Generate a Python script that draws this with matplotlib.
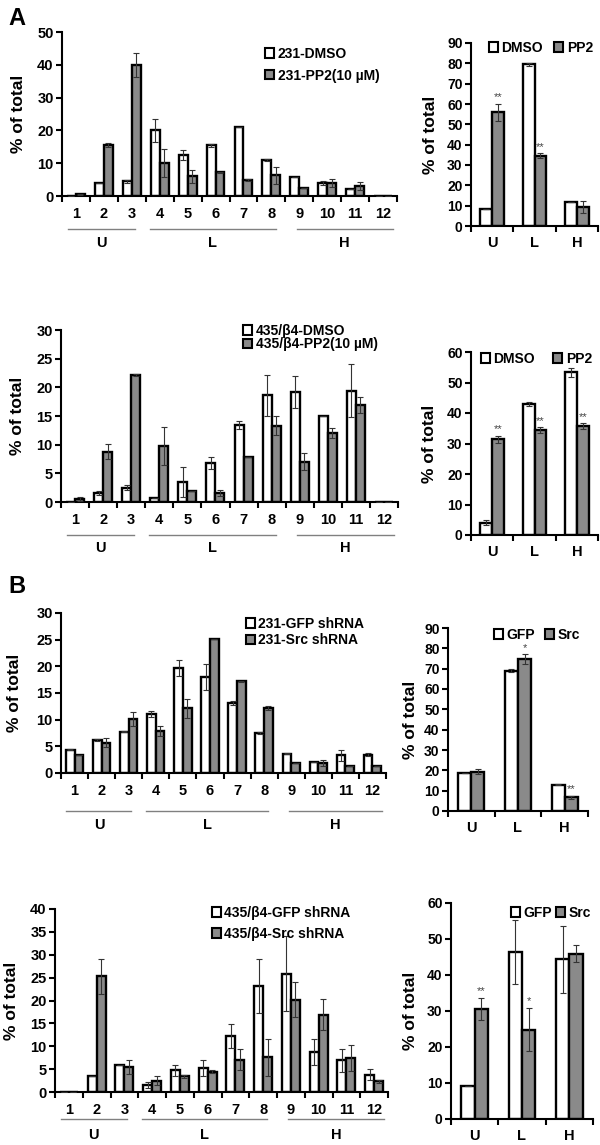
import numpy as np
import matplotlib.pyplot as plt
from matplotlib.patches import Patch
from matplotlib.transforms import ScaledTranslation

plt.rcParams['font.family'] = ['Liberation Sans', 'DejaVu Sans']
plt.rcParams['font.weight'] = 'bold'

W, H = 600, 1145
fig = plt.figure(figsize=(W / 100, H / 100), dpi=100)

fractions = [str(i) for i in range(1, 13)]
groups = ['U', 'L', 'H']
group_spans = [(0.7, 3.1), (3.65, 8.15), (8.9, 12.35)]

# A top: 231 cells, DMSO vs PP2
a1_dmso = [0.1, 4.0, 4.5, 20.0, 12.5, 15.5, 21.0, 11.0, 5.9, 4.0, 2.2, 0.1]
a1_dmso_err = [0, 0, 0.5, 3.6, 1.6, 0.5, 0, 0.3, 0, 0.5, 0, 0]
a1_pp2 = [0.5, 15.5, 40.0, 10.0, 6.0, 7.2, 5.0, 6.3, 2.5, 4.0, 3.0, 0.1]
a1_pp2_err = [0.2, 0.6, 3.6, 4.2, 2.0, 0.2, 0.3, 2.5, 0, 1.3, 1.2, 0]
a1_sum_dmso = [8.5, 79.5, 12.0]
a1_sum_dmso_err = [0, 0.6, 0]
a1_sum_pp2 = [56.0, 34.5, 9.5]
a1_sum_pp2_err = [4.2, 1.2, 3.0]
a1_stars = ['**', '**', '']

# A bottom: 435/b4 cells, DMSO vs PP2
a2_dmso = [0.05, 1.6, 2.5, 0.7, 3.5, 6.8, 13.5, 18.6, 19.2, 15.0, 19.4, 0.05]
a2_dmso_err = [0, 0.3, 0.4, 0, 2.6, 1.0, 0.7, 3.6, 2.8, 0, 4.6, 0]
a2_pp2 = [0.5, 8.8, 22.2, 9.7, 2.0, 1.6, 7.8, 13.3, 7.0, 12.0, 16.9, 0.05]
a2_pp2_err = [0.3, 1.3, 0.2, 3.3, 0, 0.5, 0, 1.7, 1.5, 0.9, 1.4, 0]
a2_sum_dmso = [4.0, 42.9, 53.3]
a2_sum_dmso_err = [0.8, 0.7, 1.6]
a2_sum_pp2 = [31.4, 34.3, 35.6]
a2_sum_pp2_err = [1.1, 1.0, 1.0]
a2_stars = ['**', '**', '**']

# B top: 231 cells, GFP vs Src shRNA
b1_gfp = [4.4, 6.2, 7.7, 11.1, 19.6, 18.0, 13.1, 7.5, 3.6, 2.1, 3.3, 3.4]
b1_gfp_err = [0.1, 0.2, 0.1, 0.6, 1.5, 2.5, 0.4, 0.2, 0.1, 0, 1.1, 0.3]
b1_src = [3.3, 5.7, 10.2, 7.9, 12.1, 25.2, 17.2, 12.2, 1.8, 1.9, 1.25, 1.4]
b1_src_err = [0, 0.8, 1.3, 0.9, 1.7, 0, 0.1, 0.4, 0, 0.6, 0, 0]
b1_sum_gfp = [18.5, 69.0, 13.0]
b1_sum_gfp_err = [0, 0.7, 0.3]
b1_sum_src = [19.4, 74.7, 6.7]
b1_sum_src_err = [1.2, 2.3, 0.8]
b1_stars = ['', '*', '**']

# B bottom: 435/b4 cells, GFP vs Src shRNA
b2_gfp = [0.1, 3.4, 6.0, 1.5, 4.7, 5.2, 12.2, 23.1, 25.8, 8.7, 6.9, 3.8]
b2_gfp_err = [0, 0, 0, 0.7, 1.2, 1.7, 2.6, 5.9, 8.2, 2.9, 2.5, 1.2]
b2_src = [0.1, 25.3, 5.5, 2.5, 3.4, 4.4, 7.1, 7.6, 20.2, 16.9, 7.4, 2.3]
b2_src_err = [0, 3.8, 1.6, 1.0, 0.3, 0.3, 2.3, 4.0, 3.9, 3.4, 2.9, 0.4]
b2_sum_gfp = [9.1, 46.4, 44.4]
b2_sum_gfp_err = [0, 9.0, 9.3]
b2_sum_src = [30.6, 24.8, 45.9]
b2_sum_src_err = [3.1, 6.0, 2.3]
b2_stars = ['**', '*', '']

GRAY = '#8a8a8a'


def px_axes(l, t, r, b):
    return fig.add_axes([l / W, 1 - b / H, (r - l) / W, (b - t) / H])


def style_axes(ax, n, ymax, ystep, ylabel_px, left_px, right_px, fs_tick, pad):
    ax.set_xlim(0.5, n + 0.5)
    ax.set_ylim(0, ymax)
    ax.set_yticks(np.arange(0, ymax + 0.1, ystep))
    ax.set_xticks(np.arange(0.5, n + 1, 1))
    ax.set_xticklabels([])
    ax.set_xticks(np.arange(1, n + 1), minor=True)
    for s in ['top', 'right']:
        ax.spines[s].set_visible(False)
    for s in ['left', 'bottom']:
        ax.spines[s].set_linewidth(1.5)
    ax.tick_params(axis='x', which='major', direction='out', length=4, width=1.5)
    ax.tick_params(axis='x', which='minor', length=0, pad=pad, labelsize=fs_tick)
    ax.tick_params(axis='y', direction='out', length=4, width=1.5, labelsize=fs_tick, pad=2)
    ax.set_ylabel('% of total', fontsize=12.5, fontweight='bold')
    # label anchor is the right edge of the rotated text
    ax.yaxis.set_label_coords((ylabel_px + 9 - left_px) / (right_px - left_px), 0.5)


def bars(ax, x, v1, e1, v2, e2, width):
    ax.bar(x - width / 2, v1, width, color='white', edgecolor='black', linewidth=1.7, zorder=2)
    ax.bar(x + width / 2, v2, width, color=GRAY, edgecolor='black', linewidth=1.7, zorder=2)
    ax.errorbar(x - width / 2, v1, yerr=e1, fmt='none', ecolor='#333333',
                elinewidth=0.8, capsize=2.5, capthick=0.8, zorder=3)
    ax.errorbar(x + width / 2, v2, yerr=e2, fmt='none', ecolor='#333333',
                elinewidth=0.8, capsize=2.5, capthick=0.8, zorder=3)


def legend(ax, labels, x, y, ncol, labelspacing, colspacing):
    handles = [Patch(facecolor='white', edgecolor='black', linewidth=1.5),
               Patch(facecolor=GRAY, edgecolor='black', linewidth=1.5)]
    ax.legend(handles, labels, loc='upper left', bbox_to_anchor=(x / W, 1 - y / H),
              bbox_transform=fig.transFigure, frameon=False, borderpad=0,
              borderaxespad=0, handlelength=0.65, handleheight=0.65,
              handletextpad=0.25, labelspacing=labelspacing, ncol=ncol,
              columnspacing=colspacing, prop={'size': 10, 'weight': 'bold'})


def fraction_chart(box, v1, e1, v2, e2, ymax, ystep, labels, leg_xy, ls, line_dy, text_dy, ylabel_px):
    l, t, r, b = box
    ax = px_axes(l, t, r, b)
    x = np.arange(1, 13)
    bars(ax, x, v1, e1, v2, e2, 0.32)
    style_axes(ax, 12, ymax, ystep, ylabel_px, l, r, 10.5, 8)
    ax.set_xticklabels(fractions, minor=True, fontweight='bold')
    t_line = ax.get_xaxis_transform() + ScaledTranslation(0, -line_dy / 100, fig.dpi_scale_trans)
    t_text = ax.get_xaxis_transform() + ScaledTranslation(0, -text_dy / 100, fig.dpi_scale_trans)
    for g, (a, c) in zip(groups, group_spans):
        ax.plot([a, c], [0, 0], color='#808080', lw=1.0, transform=t_line, clip_on=False)
        ax.text((a + c) / 2, 0, g, transform=t_text, ha='center', va='center',
                fontsize=10.5, fontweight='bold')
    ax.set_xlim(0.5, 12.5)
    legend(ax, labels, leg_xy[0], leg_xy[1], 1, ls, 0)
    return ax


def summary_chart(box, v1, e1, v2, e2, ymax, labels, leg_xy, cs, stars, ylabel_px):
    l, t, r, b = box
    ax = px_axes(l, t, r, b)
    x = np.arange(1, 4)
    w = 0.28
    bars(ax, x, v1, e1, v2, e2, w)
    style_axes(ax, 3, ymax, 10, ylabel_px, l, r, 10, 7)
    ax.set_xticklabels(groups, minor=True, fontweight='bold', fontsize=10.5)
    for xi, v, e, s in zip(x, v2, e2, stars):
        if s:
            ax.text(xi + w / 2, v + e + ymax * 0.008, s, ha='center', va='bottom',
                    fontsize=8, color='#444444', fontweight='normal')
    legend(ax, labels, leg_xy[0], leg_xy[1], 2, 0, cs)
    return ax


fraction_chart((62, 32, 397, 196), a1_dmso, a1_dmso_err, a1_pp2, a1_pp2_err, 50, 10,
               ['231-DMSO', '231-PP2(10 \u00b5M)'], (265, 47), 0.55, 33, 47, 17)
summary_chart((471, 43, 598, 226), a1_sum_dmso, a1_sum_dmso_err, a1_sum_pp2, a1_sum_pp2_err, 90,
              ['DMSO', 'PP2'], (489, 41), 0.8, a1_stars, 429)

fraction_chart((61, 330, 398, 502), a2_dmso, a2_dmso_err, a2_pp2, a2_pp2_err, 30, 5,
               ['435/\u03b24-DMSO', '435/\u03b24-PP2(10 \u00b5M)'], (243, 324), -0.05, 33, 46, 16)
summary_chart((471, 352, 598, 535), a2_sum_dmso, a2_sum_dmso_err, a2_sum_pp2, a2_sum_pp2_err, 60,
              ['DMSO', 'PP2'], (481, 352), 1.3, a2_stars, 428)

fraction_chart((61, 613, 386, 773), b1_gfp, b1_gfp_err, b1_src, b1_src_err, 30, 5,
               ['231-GFP shRNA', '231-Src shRNA'], (246, 617), 0.15, 38, 52, 13)
summary_chart((448, 628, 588, 811), b1_sum_gfp, b1_sum_gfp_err, b1_sum_src, b1_sum_src_err, 90,
              ['GFP', 'Src'], (494, 628), 0.7, b1_stars, 409)

fraction_chart((55, 909, 388, 1092), b2_gfp, b2_gfp_err, b2_src, b2_src_err, 40, 5,
               ['435/\u03b24-GFP shRNA', '435/\u03b24-Src shRNA'], (212, 906), 0.5, 27, 43, 10)
summary_chart((451, 903, 593, 1119), b2_sum_gfp, b2_sum_gfp_err, b2_sum_src, b2_sum_src_err, 60,
              ['GFP', 'Src'], (511, 906), 0.3, b2_stars, 409)

fig.text(8 / W, 1 - 7 / H, 'A', fontsize=17, fontweight='bold', va='top', ha='left')
fig.text(8 / W, 1 - 575 / H, 'B', fontsize=17, fontweight='bold', va='top', ha='left')

fig.savefig('out.png', dpi=100)
